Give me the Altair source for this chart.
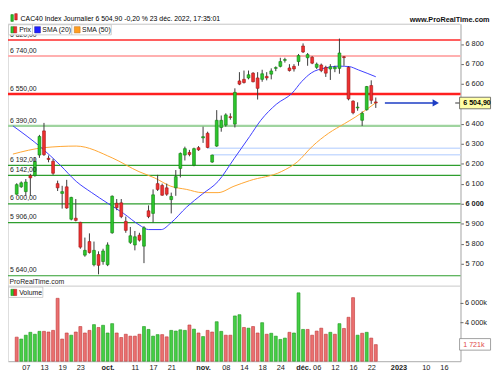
import altair as alt
import pandas as pd

# ---------------- data ----------------
dates = pd.bdate_range("2022-09-05", "2022-12-23").strftime("%Y-%m-%d").tolist()  # 80 sessions

opens = [6048, 6085, 6061, 6141, 6141, 6244, 6365, 6228, 6213, 6101,
         6052, 6085, 5923, 5928, 5907, 5743, 5811, 5695, 5746, 5711,
         5695, 5855, 6003, 6005, 5912, 5807, 5794, 5843, 5788, 5965,
         5952, 6101, 6092, 6080, 6021, 6080, 6177, 6244, 6257, 6193,
         6281, 6330, 6353, 6209, 6289, 6382, 6394, 6436, 6399, 6615,
         6623, 6630, 6654, 6630, 6623, 6638, 6649, 6678, 6688, 6718,
         6680, 6688, 6712, 6790, 6731, 6734, 6683, 6695, 6683, 6675,
         6676, 6678, 6736, 6683, 6514, 6480, 6418, 6471, 6592, 6510]
highs = [6103, 6112, 6124, 6150, 6233, 6345, 6405, 6242, 6225, 6116,
         6090, 6120, 6035, 6024, 5910, 5831, 5852, 5811, 5762, 5775,
         5807, 6042, 6024, 6024, 5936, 5884, 5864, 5855, 5888, 5992,
         6072, 6145, 6101, 6101, 6056, 6169, 6257, 6286, 6270, 6281,
         6289, 6386, 6361, 6246, 6469, 6442, 6453, 6453, 6578, 6659,
         6667, 6667, 6659, 6659, 6671, 6659, 6678, 6688, 6731, 6731,
         6699, 6699, 6750, 6803, 6755, 6739, 6707, 6702, 6691, 6699,
         6691, 6827, 6740, 6688, 6518, 6508, 6462, 6590, 6618, 6532]
lows = [6045, 6080, 6040, 6040, 6136, 6230, 6240, 6208, 6145, 6064,
        5976, 5975, 5917, 5912, 5775, 5735, 5751, 5687, 5647, 5695,
        5688, 5850, 5968, 5928, 5855, 5799, 5767, 5811, 5703, 5928,
        5907, 6064, 6040, 6040, 5952, 6040, 6132, 6217, 6238, 6188,
        6265, 6305, 6278, 6205, 6285, 6361, 6386, 6421, 6382, 6594,
        6602, 6623, 6608, 6522, 6611, 6618, 6623, 6664, 6683, 6707,
        6662, 6662, 6691, 6755, 6691, 6699, 6675, 6659, 6635, 6620,
        6659, 6651, 6691, 6518, 6448, 6466, 6390, 6466, 6500, 6480]
closes = [6096, 6105, 6109, 6130, 6212, 6337, 6246, 6222, 6153, 6080,
          6061, 5979, 6032, 5917, 5783, 5767, 5756, 5767, 5692, 5764,
          5794, 6038, 5981, 5936, 5867, 5840, 5835, 5818, 5880, 5936,
          6045, 6072, 6043, 6048, 6037, 6136, 6252, 6276, 6247, 6276,
          6270, 6336, 6282, 6244, 6418, 6418, 6445, 6432, 6558, 6599,
          6607, 6646, 6611, 6578, 6651, 6630, 6665, 6682, 6712, 6722,
          6667, 6675, 6742, 6760, 6747, 6704, 6699, 6667, 6654, 6686,
          6684, 6755, 6732, 6525, 6456, 6484, 6453, 6587, 6518, 6504.9]
# volume in thousands
volumes = [2500, 2300, 2700, 3000, 2800, 3100, 3100, 3030, 3200, 6530,
           2300, 2930, 2700, 3030, 3600, 2930, 3200, 3800, 3500, 3730,
           2930, 3900, 2930, 2460, 2800, 2600, 2600, 2800, 3600, 3300,
           2600, 2760, 2760, 2530, 3200, 3130, 3260, 3200, 3760, 3330,
           2930, 2560, 3200, 3030, 4100, 3100, 2700, 2700, 4700, 4830,
           3500, 3430, 3600, 2930, 4000, 2800, 2900, 2600, 2260, 2400,
           3000, 2930, 7100, 3300, 3300, 2700, 3130, 3430, 2800, 3000,
           2800, 3900, 3400, 4560, 6600, 2700, 2900, 3000, 2400, 1721]
# 1 = green volume bar, 0 = red volume bar
volume_up = [0, 1, 1, 1, 1, 1, 0, 0, 0, 0,
             0, 0, 1, 0, 0, 0, 0, 1, 0, 1,
             1, 1, 0, 0, 0, 0, 0, 0, 1, 1,
             1, 1, 0, 0, 1, 1, 1, 1, 0, 1,
             0, 1, 0, 0, 1, 1, 0, 0, 1, 1,
             0, 1, 0, 0, 1, 0, 1, 1, 1, 1,
             0, 1, 1, 1, 0, 0, 0, 0, 0, 1,
             0, 1, 0, 0, 0, 1, 0, 1, 0, 0]

sma20_pos = [-0.83, 5.4, 9.6, 13.1, 16.5, 20, 23.5, 26.9, 29, 31.8, 33.9, 37.4, 40.8,
             44.3, 47.8, 51.25, 53.7, 57.1, 60.6, 62.7, 64.8, 67.9, 71, 73.1, 75.2, 79]
sma20_val = [6390, 6281, 6193, 6112, 6056, 6003, 5952, 5895, 5871, 5871, 5904, 5984, 6048,
             6112, 6225, 6337, 6418, 6498, 6554, 6612, 6655, 6680, 6689, 6687, 6670, 6636]
sma50_pos = [-0.83, 6.0, 13.1, 21.0, 26.9, 30.4, 33.9, 37.4, 40.8, 44.3, 47.8, 51.25,
             58.2, 61.7, 65.1, 68.6, 72.1, 74.5, 79]
sma50_val = [6249, 6281, 6289, 6230, 6161, 6129, 6088, 6072, 6056, 6056, 6088, 6116,
             6161, 6209, 6289, 6353, 6401, 6434, 6506]

red_levels = [6820, 6550]
pink_levels = [6740]
lightgreen_levels = [6390]
green_levels = [6192, 6142, 6000, 5906, 5640]
gap_levels = [6278, 6246]
gap_start = [42, 43]

last_price = 6504.90
last_volume = 1721

price_ticks = [5700, 5800, 5900, 6000, 6100, 6200, 6300, 6400, 6600, 6700, 6800]
volume_ticks = [2000, 4000, 6000]
volume_tick_labels = ["2 000k", "4 000k", "6 000k"]

date_tick_pos = [2, 6, 10, 14, 20, 26, 30, 34, 41, 46, 50, 54, 58, 63, 66, 70, 74, 78, 84, 90, 94]
date_tick_txt = ["07", "13", "19", "23", "oct.", "11", "17", "21", "nov.", "08", "14", "18",
                 "24", "déc.", "06", "12", "16", "22", "2023", "10", "16"]
bold_ticks = [20, 41, 63, 84]

title_text = "CAC40 Index Journalier 6 504,90 -0,20 % 23 déc. 2022, 17:35:01"

# ---------------- geometry (reference px -> chart px) ----------------
SX = 492 / 500
SY = 367 / 375
TOP_REF = 13
W = 460
H = 343


def X(xr):
    return xr * SX


def Y(yr):
    return (yr - TOP_REF) * SY


P_TOP = 6800 + (34 - TOP_REF) / 0.2075
P_BOT = 6800 - (TOP_REF + H / SY - 34) / 0.2075
VOL_TOP = (H / SY) * 100
X_MIN = -4 / 4.8
X_MAX = (W / SX - 4) / 4.8

xscale = alt.Scale(domain=[X_MIN, X_MAX], nice=False, zero=False)
pscale = alt.Scale(domain=[P_BOT, P_TOP], nice=False, zero=False)
vscale = alt.Scale(domain=[0, VOL_TOP], nice=False, zero=False)

GREEN, GREEN_D = "#2cc62c", "#0f7d0f"
RED, RED_D = "#ee3030", "#a01515"

# ---------------- tables ----------------
cdf = pd.DataFrame({"idx": list(range(len(dates))), "date": dates, "open": opens,
                    "high": highs, "low": lows, "close": closes,
                    "vol": volumes})
cdf["dir"] = ["up" if c >= o else "down" for o, c in zip(opens, closes)]
cdf["vdir"] = ["up" if u else "down" for u in volume_up]

sma20 = pd.DataFrame({"pos": sma20_pos, "val": sma20_val})
sma50 = pd.DataFrame({"pos": sma50_pos, "val": sma50_val})


def fmt_level(v):
    return f"{v:,.2f}".replace(",", " ").replace(".", ",")


all_levels = red_levels + pink_levels + lightgreen_levels + green_levels
lvl_labels = pd.DataFrame({"level": all_levels, "label": [fmt_level(v) for v in all_levels]})
gaps = pd.DataFrame({"level": gap_levels, "start": gap_start})
one = pd.DataFrame({"a": [0]})

x_axis = alt.Axis(
    values=date_tick_pos,
    labelExpr="[" + ",".join(f"'{t}'" for t in date_tick_txt) + "][indexof(["
              + ",".join(str(p) for p in date_tick_pos) + "], datum.value)]",
    labelFontSize=7.5, labelColor="#222", ticks=False, domainColor="#b4b4b4",
    labelPadding=2, labelFlush=False, labelOverlap=False, labelBound=False, grid=False,
    labelFontWeight={"condition": {"test": "indexof([" + ",".join(str(b) for b in bold_ticks)
                                   + "], datum.value) >= 0", "value": "bold"},
                     "value": "normal"},
)
y_axis = alt.Axis(
    orient="right", values=price_ticks,
    labelExpr="replace(format(datum.value, ','), ',', ' ')",
    labelFontSize=7.5, labelColor="#222", tickSize=3, tickColor="#666",
    domainColor="#b4b4b4", labelPadding=1.5, grid=False,
    labelFontWeight={"condition": {"test": "datum.value == 6000", "value": "bold"},
                     "value": "normal"},
)


def xq(field):
    # every layer carries the same x axis so that the shared axis merges cleanly
    return alt.X(f"{field}:Q", scale=xscale, axis=x_axis, title=None)


def yp(field, axis=None):
    return alt.Y(f"{field}:Q", scale=pscale, axis=axis, title=None)


def yv(field):
    return alt.Y(f"{field}:Q", scale=vscale, axis=None, title=None)


def level_rule(values, color, width):
    return alt.Chart(pd.DataFrame({"level": values})).mark_rule(
        color=color, strokeWidth=width).encode(y=yp("level"))


# ---------------- price panel ----------------
gap_lines = alt.Chart(gaps).mark_rule(color="#c9dcff", strokeWidth=1.6).encode(
    x=xq("start"), x2=alt.value(W), y=yp("level"))

level_text = alt.Chart(lvl_labels).mark_text(
    align="left", baseline="middle", dy=-5.5 * SY, fontSize=7, color="#222").encode(
    x=alt.value(X(2)), y=yp("level"), text="label:N")

line20 = alt.Chart(sma20).mark_line(color="#3c3cff", strokeWidth=1, interpolate="monotone").encode(
    x=xq("pos"), y=yp("val"))
line50 = alt.Chart(sma50).mark_line(color="#ffa531", strokeWidth=1, interpolate="monotone").encode(
    x=xq("pos"), y=yp("val"))

wicks = alt.Chart(cdf).mark_rule(color="#3a3a3a", strokeWidth=1).encode(
    x=xq("idx"), y=yp("low", y_axis), y2="high:Q")
bodies = alt.Chart(cdf).mark_bar(width=2.9, strokeWidth=0.6).encode(
    x=xq("idx"), y=yp("open"), y2="close:Q",
    fill=alt.Fill("dir:N", scale=alt.Scale(domain=["up", "down"], range=[GREEN, RED]), legend=None),
    stroke=alt.Stroke("dir:N", scale=alt.Scale(domain=["up", "down"], range=[GREEN_D, RED_D]), legend=None),
)

arrow_df = pd.DataFrame({"x0": [81.0], "x1": [91.6], "xh": [92.2], "price": [last_price]})
arrow_line = alt.Chart(arrow_df).mark_rule(color="#1d3dc4", strokeWidth=1.6).encode(
    x=xq("x0"), x2="x1:Q", y=yp("price"))
arrow_head = alt.Chart(arrow_df).mark_point(shape="triangle-right", filled=True, size=55,
                                            color="#1d3dc4", opacity=1).encode(
    x=xq("xh"), y=yp("price"))

# ---------------- volume panel ----------------
vol_bars = alt.Chart(cdf).mark_bar(width=3.0, strokeWidth=0.6).encode(
    x=xq("idx"), y=yv("vol"),
    fill=alt.Fill("vdir:N", scale=alt.Scale(domain=["up", "down"], range=["#45cf45", "#ea7070"]), legend=None),
    stroke=alt.Stroke("vdir:N", scale=alt.Scale(domain=["up", "down"], range=["#1c951c", "#c03434"]), legend=None),
)
vt = pd.DataFrame({"v": volume_ticks, "t": volume_tick_labels})
vol_tick_marks = alt.Chart(vt).mark_rule(color="#666", strokeWidth=1).encode(
    x=alt.value(W), x2=alt.value(W + 3), y=yv("v"))
vol_tick_text = alt.Chart(vt[vt.v > 2000]).mark_text(
    align="left", baseline="middle", fontSize=7.5, color="#222").encode(
    x=alt.value(W + 4.5), y=yv("v"), text="t:N")


# ---------------- decorations ----------------
def rect(x1, x2, y1, y2, fill, stroke=None, sw=0.8):
    kw = {"fill": fill}
    if stroke:
        kw.update(stroke=stroke, strokeWidth=sw)
    return alt.Chart(one).mark_rect(**kw).encode(
        x=alt.value(X(x1)), x2=alt.value(X(x2)), y=alt.value(Y(y1)), y2=alt.value(Y(y2)))


def text(s, xr, yr, size=7.0, weight="normal", align="left", color="#111"):
    return alt.Chart(one).mark_text(text=s, align=align, baseline="middle", fontSize=size,
                                    fontWeight=weight, color=color).encode(
        x=alt.value(X(xr)), y=alt.value(Y(yr)))


def hline(yr, color, x1=0, x2=467, sw=1):
    return alt.Chart(one).mark_rule(color=color, strokeWidth=sw).encode(
        x=alt.value(X(x1)), x2=alt.value(X(x2)), y=alt.value(Y(yr)))


layers = [
    level_rule(green_levels, "#2e9e2e", 1.2),
    level_rule(lightgreen_levels, "#9fd49f", 2.2),
    level_rule(pink_levels, "#ffb0b0", 2.2),
    level_rule(red_levels[:1], "#ff2a2a", 1.4),
    level_rule(red_levels[1:], "#ff2020", 2.6),
    gap_lines, line50, line20, wicks, bodies, level_text, arrow_line, arrow_head,
    vol_bars, vol_tick_marks, vol_tick_text,
    hline(13.5, "#d0d0d0"),
    # title row
    rect(3, 5.5, 3.5, 10.5, GREEN, GREEN_D, 0.6),
    rect(7, 9.5, 2.5, 9, RED, RED_D, 0.6),
    text(title_text, 13, 7.6, 7.0, color="#000"),
    text("www.ProRealTime.com", 497.5, 9, 7.4, "bold", "right", "#111"),
    # price legend
    rect(0.5, 25.3, 14, 24.5, "white", "#c4c4c4"),
    rect(25.3, 66, 14, 24.5, "white", "#c4c4c4"),
    rect(66, 106.7, 14, 24.5, "white", "#c4c4c4"),
    rect(3, 6, 16, 22.5, GREEN, GREEN_D, 0.5),
    rect(6, 9, 16, 22.5, RED, RED_D, 0.5),
    text("Prix", 11.5, 19.4),
    rect(27.5, 33.5, 16, 22.5, "#2020ff", "#1010a0", 0.5),
    text("SMA (20)", 35.5, 19.4),
    rect(68.5, 74.5, 16, 22.5, "#ff9d1f", "#c07010", 0.5),
    text("SMA (50)", 76.5, 19.4),
    # last price box
    hline(95.3, "#333", 462, 467, 1),
    rect(466.5, 498.5, 89.3, 101.3, "#ffffa6", "#555555", 0.8),
    text("6 504,90", 470.3, 95.4, 7.2, "bold", color="#000"),
    # volume header
    text("ProRealTime.com", 1.5, 281.3, 7.0, color="#222"),
    hline(285.5, "#c8c8c8"),
    rect(0.5, 36, 286.5, 297.3, "white", "#c4c4c4"),
    rect(3, 6, 288.8, 295.3, GREEN, GREEN_D, 0.5),
    rect(6, 9, 288.8, 295.3, RED, RED_D, 0.5),
    text("Volume", 11.5, 292.2),
    # last volume box
    rect(466.5, 498.5, 340, 352, "white", "#8a8a8a", 0.8),
    text("1 721k", 470.3, 346.2, 7.2, color="#e04848"),
]

chart = alt.layer(*layers).resolve_scale(
    y="independent", fill="independent", stroke="independent"
).properties(
    width=W, height=H,
    autosize=alt.AutoSizeParams(type="none"),
    padding={"left": 0, "top": 13, "right": 492 - W, "bottom": 367 - 13 - H},
    background="white",
).configure_view(strokeWidth=0).configure(font="Liberation Sans")

chart.save("out.html", embed_options={"renderer": "svg", "actions": False})
